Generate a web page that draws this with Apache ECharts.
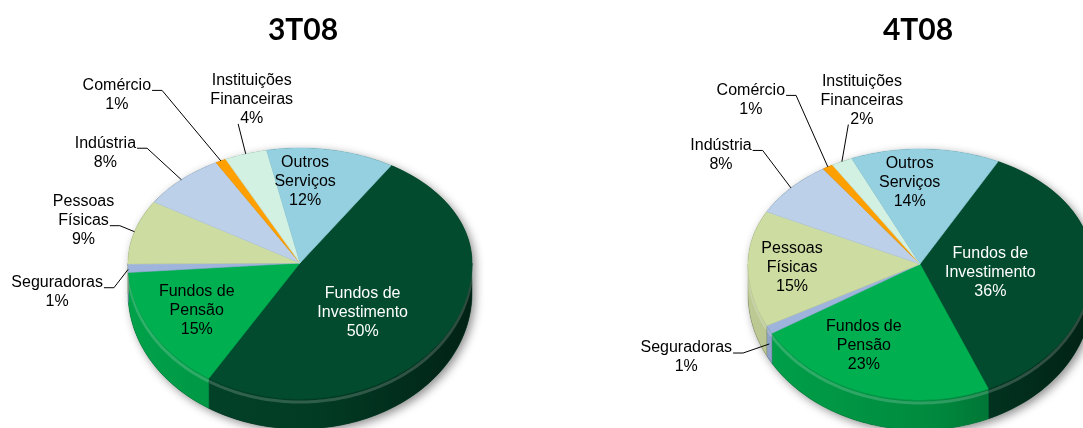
<!DOCTYPE html>
<html>
<head>
<meta charset="utf-8">
<title>Base de investidores 3T08 x 4T08</title>
<script src="https://cdn.jsdelivr.net/npm/echarts@6/dist/echarts.min.js"></script>
<style>
  html, body { margin: 0; padding: 0; background: #fff; }
  #chart { width: 1083px; height: 428px; }
</style>
</head>
<body>
<div id="chart"></div>
<script>
// dados
const categories = ['Fundos de\nInvestimento', 'Fundos de\nPensão', 'Seguradoras', 'Pessoas\nFísicas',
  'Indústria', 'Comércio', 'Instituições\nFinanceiras', 'Outros\nServiços']
const periods = ['3T08', '4T08']
const share3T08 = [50, 15, 1, 9, 8, 1, 4, 12]
const share4T08 = [36, 23, 1, 15, 8, 1, 2, 14]

// estilo
const colors = ['#024b2e', '#00b050', '#9eb4dd', '#cddca1', '#bcd0ea', '#ffa000', '#d3f1e3', '#95d0e0']
const FONT = '16px "Liberation Sans", Arial, sans-serif'
const LINE_H = 19
const RX = 172, RY_BACK = 115, RY_FRONT = 136, DEPTH = 30

// posição das pizzas e ajuste fino dos rótulos (dx, dy)
const pies = [
  { title: periods[0], values: share3T08, cx: 300, cy: 263, titleX: 303, start: -58,
    shift: [[-3, 17], [-3, 0], [-71, 24], [-51, -11], [-76, -27], [-104, -66], [6, -54], [-16, -4]] },
  { title: periods[1], values: share4T08, cx: 920, cy: 264, titleX: 918, start: -63,
    shift: [[-7, 7], [-20, -6], [-83, 28], [-11, 4], [-70, -33], [-77, -67], [20, -61], [-14, -3]] }
]

const measureCtx = document.createElement('canvas').getContext('2d')
measureCtx.font = FONT
const textWidth = s => measureCtx.measureText(s).width

function shade(hex, f) {
  const n = parseInt(hex.slice(1), 16)
  const c = [(n >> 16) & 255, (n >> 8) & 255, n & 255].map(x => Math.min(255, Math.round(x * f)))
  return 'rgb(' + c.join(',') + ')'
}

function isDark(hex) {
  const n = parseInt(hex.slice(1), 16)
  return 0.3 * ((n >> 16) & 255) + 0.59 * ((n >> 8) & 255) + 0.11 * (n & 255) < 100
}

// ponto na borda da elipse (frente um pouco maior, efeito de perspectiva)
function rim(p, deg, drop) {
  const t = deg * Math.PI / 180
  const s = Math.sin(t)
  return [p.cx + RX * Math.cos(t), p.cy + (s < 0 ? RY_BACK : RY_FRONT) * s + (drop || 0)]
}

function arc(p, a, b, drop) {
  const pts = []
  const n = Math.max(2, Math.ceil((b - a) / 1.5))
  for (let k = 0; k <= n; k++) pts.push(rim(p, a + (b - a) * k / n, drop))
  return pts
}

// trechos do arco voltados para a frente (0..180 graus)
function frontRanges(a, b) {
  const out = []
  for (const off of [-360, 0, 360]) {
    const s = Math.max(a, off), e = Math.min(b, off + 180)
    if (e > s) out.push([s, e])
  }
  return out
}

function pieSeries(p) {
  const total = p.values.reduce((s, v) => s + v, 0)
  const starts = []
  let acc = p.start
  p.values.forEach(v => { starts.push(acc); acc += v / total * 360 })

  return {
    type: 'custom',
    name: p.title,
    coordinateSystem: 'none',
    silent: true,
    data: p.values,
    renderItem(params, api) {
      const i = params.dataIndex
      const v = api.value(0)
      const a = starts[i]
      const b = a + v / total * 360
      const color = colors[i]
      const children = []

      if (i === 0) {
        // base com sombra
        const base = arc(p, 180, 360, 0).concat(arc(p, 0, 180, DEPTH))
        children.push({
          type: 'polygon', z2: 0, shape: { points: base },
          style: { fill: '#0b2a1a', shadowBlur: 10, shadowColor: 'rgba(0,0,0,0.45)', shadowOffsetX: 3, shadowOffsetY: 3 }
        })
      }

      // lateral
      frontRanges(a, b).forEach(([s, e]) => {
        const pts = arc(p, s, e, 0).concat(arc(p, s, e, DEPTH).reverse())
        children.push({
          type: 'polygon', z2: 1, shape: { points: pts },
          style: {
            fill: {
              type: 'linear', global: true, x: p.cx - RX, y: 0, x2: p.cx + RX, y2: 0,
              colorStops: [
                { offset: 0, color: shade(color, 0.92) },
                { offset: 0.55, color: shade(color, 0.78) },
                { offset: 1, color: shade(color, 0.45) }
              ]
            },
            stroke: shade(color, 0.75), lineWidth: 0.5
          }
        })
        children.push({
          type: 'polyline', z2: 1, shape: { points: arc(p, s, e, 3) },
          style: { stroke: 'rgba(255,255,255,0.18)', lineWidth: 3, fill: null }
        })
      })

      // topo
      children.push({
        type: 'polygon', z2: 2,
        shape: { points: [[p.cx, p.cy]].concat(arc(p, a, b, 0)) },
        style: { fill: color, stroke: color, lineWidth: 0.6 }
      })

      // rótulo
      const lines = categories[i].split('\n').concat([v + '%'])
      const n = lines.length
      const inside = v >= 10
      const sh = p.shift[i]
      const mid = (a + b) / 2
      const tm = mid * Math.PI / 180
      let lx, ly, anchor
      if (inside) {
        const r = v > 30 ? 0.45 : 0.68
        const s = Math.sin(tm)
        lx = p.cx + r * RX * Math.cos(tm) + sh[0]
        ly = p.cy + r * (s < 0 ? RY_BACK : RY_FRONT) * s + sh[1]
      } else {
        const base = rim(p, mid)
        // fatias da frente: a linha encosta na lateral
        anchor = rim(p, mid, Math.max(0, Math.sin(tm)) * DEPTH)
        lx = base[0] + sh[0]
        ly = base[1] + sh[1]
      }
      const lineY = k => ly + (k - (n - 1) / 2) * LINE_H
      lines.forEach((txt, k) => {
        children.push({
          type: 'text', z2: 3, x: lx, y: lineY(k),
          style: {
            text: txt, font: FONT, align: 'center', verticalAlign: 'middle',
            fill: inside && isDark(color) ? '#ffffff' : '#000000'
          }
        })
      })
      if (!inside) {
        let pts
        if (sh[0] < -20) {
          const k = n - 2
          const y = lineY(k) + 5
          const x = lx + textWidth(lines[k]) / 2 + 1
          pts = [[x, y], [x + 10, y], anchor]
        } else {
          const y = lineY(n - 1) + 5
          const x = lx - textWidth(lines[n - 1]) / 2 - 2
          pts = [[x, y], anchor]
        }
        children.push({
          type: 'polyline', z2: 3, shape: { points: pts },
          style: { stroke: '#000', lineWidth: 1, fill: null }
        })
      }

      return { type: 'group', children }
    }
  }
}

const chart = echarts.init(document.getElementById('chart'))
chart.setOption({
  backgroundColor: '#ffffff',
  animation: false,
  graphic: pies.map(p => ({
    type: 'text', x: p.titleX, y: 30,
    style: { text: p.title, font: 'bold 30px Lato, "Open Sans", sans-serif', fill: '#000', align: 'center', verticalAlign: 'middle' }
  })),
  series: pies.map(pieSeries)
})
</script>
</body>
</html>
